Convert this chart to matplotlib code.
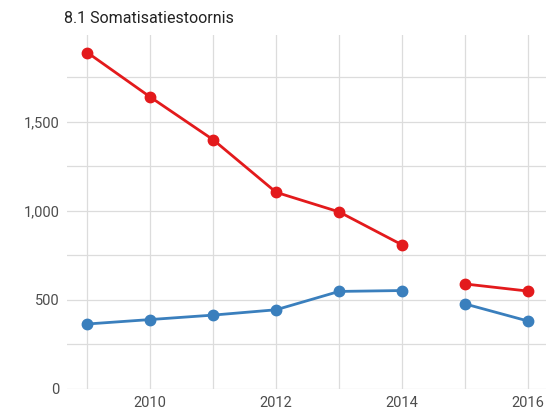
import matplotlib
matplotlib.use("Agg")
import matplotlib.pyplot as plt
from matplotlib.ticker import MultipleLocator, FuncFormatter

years = [2009, 2010, 2011, 2012, 2013, 2014, 2015, 2016]
red_vals = [1890, 1640, 1400, 1105, 995, 810, 590, 550]
blue_vals = [365, 390, 415, 445, 548, 553, 478, 382]
# the series break between 2014 and 2015
split = 6

plt.rcParams['font.family'] = ['Roboto', 'DejaVu Sans']

fig = plt.figure(figsize=(5.46, 4.09), dpi=100)
ax = fig.add_axes([0.122, 0.049, 0.878, 0.866])

for vals, col in [(red_vals, '#e31a1c'), (blue_vals, '#3a7fbd')]:
    ax.plot(years[:split], vals[:split], color=col, lw=2, marker='o', ms=7.5, zorder=3)
    ax.plot(years[split:], vals[split:], color=col, lw=2, marker='o', ms=7.5, zorder=3)

ax.set_xlim(2008.67, 2016.29)
ax.set_ylim(0, 1990)
ax.xaxis.set_major_locator(MultipleLocator(2))
ax.xaxis.set_minor_locator(MultipleLocator(1))
ax.yaxis.set_major_locator(MultipleLocator(500))
ax.yaxis.set_minor_locator(MultipleLocator(250))
ax.yaxis.set_major_formatter(FuncFormatter(lambda v, p: f"{int(v):,}"))
ax.grid(which='both', color='#dcdcdc', lw=0.9)
ax.set_axisbelow(True)
for s in ax.spines.values():
    s.set_visible(False)
ax.tick_params(which='both', length=0, labelsize=10.5, colors='#4d4d4d', pad=5)
ax.tick_params(axis='y', pad=5)

fig.text(0.117, 0.955, "8.1 Somatisatiestoornis", fontsize=11.5, color='#222222', va='center')

fig.savefig("out.png", dpi=100)
